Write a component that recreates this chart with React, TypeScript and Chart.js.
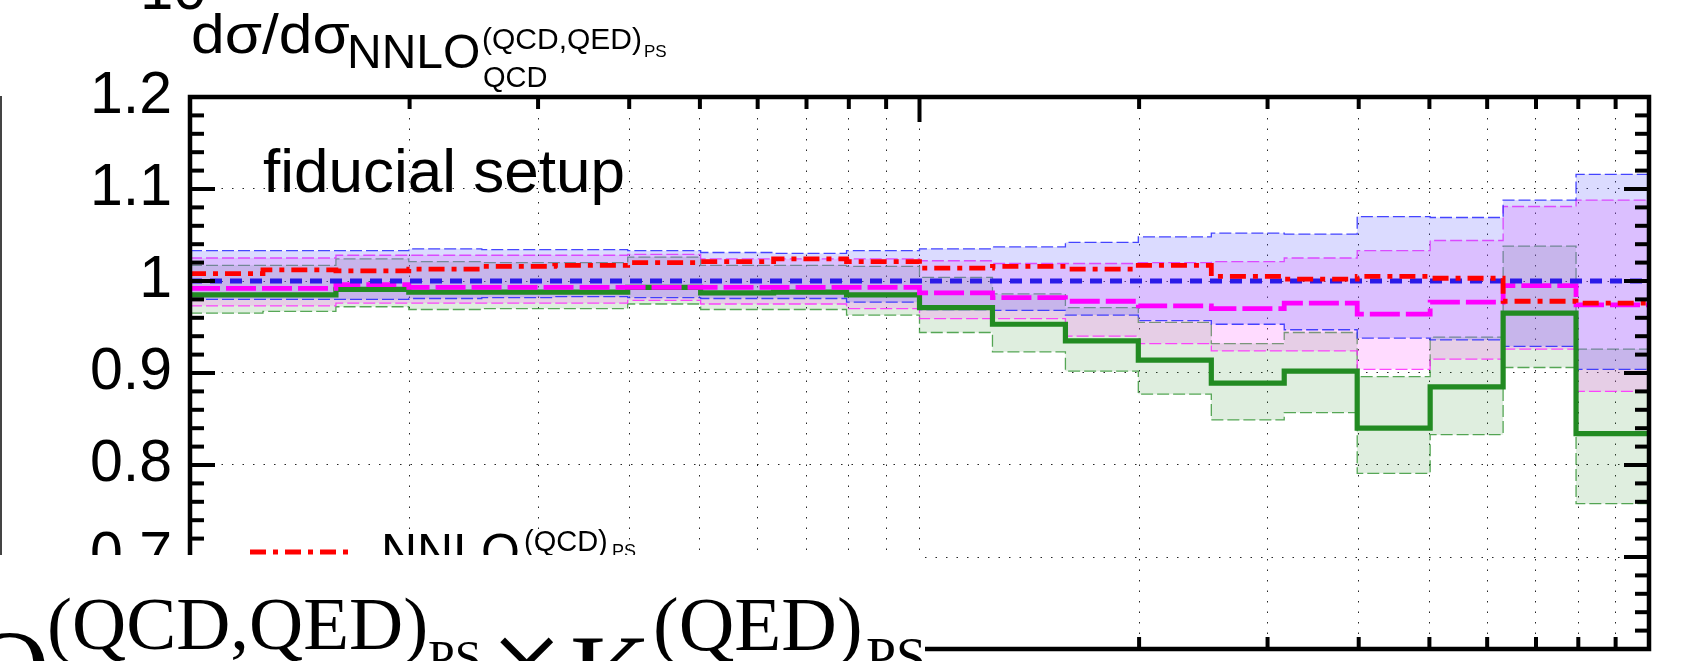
import React, { useEffect, useRef } from "react";
import { Chart, registerables } from "chart.js";
Chart.register(...registerables);

// ---- data ----
const BIN_EDGES = [10, 12.59, 15.85, 19.95, 25.12, 31.62, 39.81, 50.12, 63.1, 79.43, 100, 125.9, 158.5, 199.5, 251.2, 316.2, 398.1, 501.2, 631.0, 794.3, 1000];
const X_GRID_TICKS = [10, 20, 30, 40, 50, 60, 70, 80, 90, 100, 200, 300, 400, 500, 600, 700, 800, 900, 1000];
const X_MAJOR = [10, 100, 1000];
const Y_TICKS = [0.6, 0.7, 0.8, 0.9, 1.0, 1.1, 1.2];
const Y_TICK_LABELS = ["0.6", "0.7", "0.8", "0.9", "1", "1.1", "1.2"];
const Y_MINOR_STEP = 0.02;

const RED = [1.008, 1.012, 1.011, 1.013, 1.016, 1.017, 1.020, 1.021, 1.024, 1.021, 1.014, 1.016, 1.013, 1.017, 1.005, 1.002, 1.005, 1.003, 0.978, 0.976];
const BLUE = [1.0, 1.0, 1.0, 1.0, 1.0, 1.0, 1.0, 1.0, 1.0, 1.0, 1.0, 1.0, 1.0, 1.0, 1.0, 1.0, 1.0, 1.0, 1.0, 1.0];
const MAGENTA = [0.992, 0.992, 0.996, 0.993, 0.993, 0.993, 0.993, 0.993, 0.993, 0.993, 0.987, 0.982, 0.978, 0.973, 0.970, 0.976, 0.964, 0.977, 0.995, 0.974];
const GREEN = [0.985, 0.985, 0.991, 0.988, 0.988, 0.988, 0.993, 0.987, 0.988, 0.985, 0.971, 0.953, 0.935, 0.914, 0.889, 0.902, 0.840, 0.885, 0.965, 0.834];

const BLUE_UP = [1.033, 1.033, 1.033, 1.035, 1.034, 1.034, 1.033, 1.031, 1.030, 1.033, 1.035, 1.037, 1.042, 1.048, 1.052, 1.051, 1.070, 1.069, 1.088, 1.116];
const BLUE_LO = [0.980, 0.980, 0.980, 0.981, 0.982, 0.983, 0.982, 0.981, 0.981, 0.977, 0.969, 0.968, 0.963, 0.957, 0.953, 0.947, 0.938, 0.936, 0.929, 0.904];
const MAG_UP = [1.025, 1.025, 1.028, 1.028, 1.028, 1.028, 1.029, 1.024, 1.024, 1.024, 1.022, 1.019, 1.019, 1.020, 1.021, 1.025, 1.033, 1.044, 1.081, 1.088];
const MAG_LO = [0.973, 0.973, 0.976, 0.976, 0.976, 0.976, 0.979, 0.975, 0.975, 0.970, 0.959, 0.959, 0.940, 0.932, 0.924, 0.924, 0.904, 0.915, 0.926, 0.880];
const GREEN_UP = [1.017, 1.017, 1.024, 1.021, 1.020, 1.020, 1.026, 1.017, 1.017, 1.016, 1.004, 0.986, 0.971, 0.955, 0.932, 0.944, 0.896, 0.939, 1.038, 0.926];
const GREEN_LO = [0.965, 0.967, 0.972, 0.969, 0.970, 0.970, 0.975, 0.969, 0.969, 0.963, 0.944, 0.923, 0.902, 0.877, 0.849, 0.857, 0.791, 0.833, 0.906, 0.758];

const toSteps = (vals: number[]) => [
  ...vals.map((v, i) => ({ x: BIN_EDGES[i], y: v })),
  { x: BIN_EDGES[BIN_EDGES.length - 1], y: vals[vals.length - 1] },
];

const centerLine = (label: string, vals: number[], color: string, dash: number[], width: number) => ({
  label,
  data: toSteps(vals),
  borderColor: color,
  borderWidth: width,
  borderDash: dash,
  pointRadius: 0,
  stepped: "before",
  fill: false,
  borderCapStyle: "butt",
});

const edgeLine = (label: string, vals: number[], color: string, fillColor: string | null) => ({
  label,
  data: toSteps(vals),
  borderColor: color,
  borderWidth: 1.3,
  borderDash: [12, 4],
  pointRadius: 0,
  stepped: "before",
  fill: fillColor ? "-1" : false,
  backgroundColor: fillColor || "transparent",
});

const framePlugin = {
  id: "frame",
  afterDatasetsDraw(chart: any) {
    const { ctx, chartArea: a, scales } = chart;
    const x = scales.x;
    const y = scales.y;
    ctx.save();
    ctx.strokeStyle = "#000";
    ctx.lineCap = "butt";
    ctx.lineWidth = 4;
    const seg = (x1: number, y1: number, x2: number, y2: number) => {
      ctx.beginPath();
      ctx.moveTo(x1, y1);
      ctx.lineTo(x2, y2);
      ctx.stroke();
    };
    X_GRID_TICKS.forEach((v) => {
      const px = x.getPixelForValue(v);
      if (px <= a.left + 2 || px >= a.right - 2) return;
      const len = X_MAJOR.includes(v) ? 25 : 12;
      seg(px, a.top, px, a.top + len);
      seg(px, a.bottom, px, a.bottom - len);
    });
    const n = Math.round((y.max - y.min) / Y_MINOR_STEP);
    for (let k = 1; k < n; k++) {
      const v = y.min + k * Y_MINOR_STEP;
      const py = y.getPixelForValue(v);
      const len = k % 5 === 0 ? 25 : 14;
      seg(a.left, py, a.left + len, py);
      seg(a.right, py, a.right - len, py);
    }
    ctx.lineWidth = 4.5;
    ctx.strokeRect(a.left, a.top, a.right - a.left, a.bottom - a.top);
    ctx.restore();
  },
};

const SANS = "'Liberation Sans', Arial, sans-serif";
const SERIF = "'Liberation Serif', 'Times New Roman', serif";

const T = (props: { text: string; left: number; top: number; size: number; family?: string; italic?: boolean; sx?: number }) => (
  <div
    style={{
      position: "absolute",
      left: props.left,
      top: props.top,
      fontFamily: props.family || SANS,
      fontSize: props.size,
      lineHeight: `${props.size}px`,
      fontStyle: props.italic ? "italic" : "normal",
      whiteSpace: "nowrap",
      color: "#000",
      transform: props.sx ? `scaleX(${props.sx})` : undefined,
      transformOrigin: "left top",
    }}
  >
    {props.text}
  </div>
);

export default function App() {
  const canvasRef = useRef<HTMLCanvasElement | null>(null);

  useEffect(() => {
    document.body.style.margin = "0";
    const canvas = canvasRef.current;
    if (!canvas) return;
    const chart = new Chart(canvas, {
      type: "line",
      data: {
        datasets: [
          centerLine("NNLO (QCD)_PS", RED, "#ff0000", [16, 7, 5, 7], 4.8),
          centerLine("NNLO (QCD,QED)_PS", BLUE, "#2a1ae8", [12, 8], 4.8),
          centerLine("magenta", MAGENTA, "#ff00ff", [30, 6], 4.8),
          centerLine("green", GREEN, "#228b22", [], 5.2),
          edgeLine("blue lo", BLUE_LO, "rgba(40,40,255,0.85)", null),
          edgeLine("blue up", BLUE_UP, "rgba(40,40,255,0.85)", "rgba(90,90,255,0.22)"),
          edgeLine("mag lo", MAG_LO, "rgba(255,40,255,0.85)", null),
          edgeLine("mag up", MAG_UP, "rgba(255,40,255,0.85)", "rgba(255,90,255,0.22)"),
          edgeLine("green lo", GREEN_LO, "rgba(34,139,34,0.75)", null),
          edgeLine("green up", GREEN_UP, "rgba(34,139,34,0.75)", "rgba(40,140,40,0.15)"),
        ] as any,
      },
      options: {
        animation: false,
        responsive: false,
        maintainAspectRatio: false,
        parsing: true,
        layout: { padding: { left: 0, right: 58, top: 97, bottom: 12 } },
        plugins: {
          legend: { display: false },
          tooltip: { enabled: false },
          filler: { propagate: false },
        },
        scales: {
          x: {
            type: "logarithmic",
            min: 10,
            max: 1000,
            afterBuildTicks: (s: any) => {
              s.ticks = X_GRID_TICKS.map((v) => ({ value: v }));
            },
            afterFit: (s: any) => {
              s.height = 0;
              s.paddingLeft = 0;
              s.paddingRight = 0;
            },
            ticks: { display: false, autoSkip: false },
            grid: { color: "rgba(0,0,0,0.85)", lineWidth: 1, drawTicks: false },
            border: { display: false, dash: [1.5, 9] },
          },
          y: {
            type: "linear",
            min: 0.6,
            max: 1.2,
            afterBuildTicks: (s: any) => {
              s.ticks = Y_TICKS.map((v) => ({ value: v }));
            },
            afterFit: (s: any) => {
              s.width = 190;
              s.paddingTop = 0;
              s.paddingBottom = 0;
            },
            ticks: {
              autoSkip: false,
              padding: 18,
              color: "#000",
              font: { family: "'Liberation Sans'", size: 59 },
              callback: (_v: any, i: number) => Y_TICK_LABELS[i],
            },
            grid: { color: "rgba(0,0,0,0.85)", lineWidth: 1, drawTicks: false },
            border: { display: false, dash: [1.5, 9] },
          },
        },
      } as any,
      plugins: [framePlugin],
    });
    return () => chart.destroy();
  }, []);

  return (
    <div style={{ position: "fixed", left: 0, top: 0, width: 1707, height: 661, background: "#fff", overflow: "hidden" }}>
      <canvas ref={canvasRef} width={1707} height={661} style={{ position: "absolute", left: 0, top: 0, width: 1707, height: 661 }} />

      {/* title */}
      <T text="dσ/dσ" left={191} top={7} size={55} sx={1.1} />
      <T text="NNLO" left={347} top={28} size={48} />
      <T text="(QCD,QED)" left={482} top={24} size={30} />
      <T text="PS" left={644} top={43} size={17} />
      <T text="QCD" left={483} top={63} size={29} />

      {/* annotation */}
      <T text="fiducial setup" left={263} top={140} size={62} />

      {/* legend fragment (cut by the overlay) */}
      <svg style={{ position: "absolute", left: 250, top: 540, overflow: "visible" }} width={100} height={30}>
        <line x1={0} y1={12} x2={98} y2={12} stroke="#ff0000" strokeWidth={5} strokeDasharray="16 7 5 7" />
      </svg>
      <T text="NNLO" left={381} top={527} size={50} />
      <T text="(QCD)" left={524} top={527} size={29} />
      <T text="PS" left={612} top={542} size={18} />

      {/* white cover from the overlapping figure */}
      <div style={{ position: "absolute", left: 0, top: 555, width: 925, height: 106, background: "#fff" }} />

      {/* overlapping fragments */}
      <T text="O" left={-30} top={614} size={110} family={SERIF} />
      <T text="(QCD,QED)" left={47} top={586} size={75} family={SERIF} />
      <T text="PS" left={428} top={634} size={48} family={SERIF} />
      <T text="×" left={490} top={598} size={130} family={SERIF} />
      <T text="K" left={570} top={618} size={112} family={SERIF} />
      <T text="(QED)" left={653} top={586} size={77} family={SERIF} />
      <T text="PS" left={866} top={630} size={54} family={SERIF} />
      <div style={{ position: "absolute", left: 0, top: 96, width: 2, height: 459, background: "#444" }} />
      <T text="10" left={140} top={-41} size={60} />
    </div>
  );
}
